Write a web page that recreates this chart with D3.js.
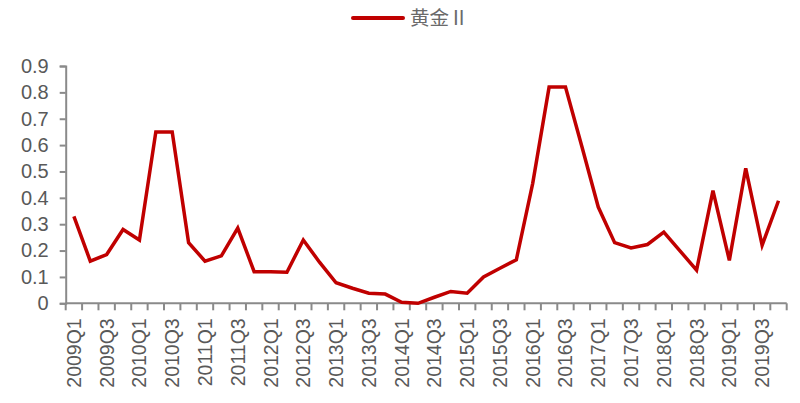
<!DOCTYPE html>
<html><head><meta charset="utf-8">
<script src="https://cdn.jsdelivr.net/npm/d3@7"></script>
<style>
html,body{margin:0;padding:0;background:#fff;}
svg{display:block;}
</style></head>
<body>
<svg id="chart" width="800" height="403"></svg>
<script>
const seriesName = "黄金Ⅱ";
const years = [2009,2010,2011,2012,2013,2014,2015,2016,2017,2018,2019];
const quarters = years.flatMap(y => [1,2,3,4].map(q => y + "Q" + q));
const values = [
  0.33, 0.16, 0.185, 0.28,
  0.24, 0.65, 0.65, 0.23,
  0.16, 0.18, 0.285, 0.12,
  0.12, 0.118, 0.24, 0.155,
  0.078, 0.057, 0.038, 0.035,
  0.004, 0.0, 0.023, 0.045,
  0.038, 0.10, 0.133, 0.165,
  0.455, 0.82, 0.82, 0.595,
  0.365, 0.23, 0.21, 0.223,
  0.27, 0.198, 0.126, 0.427,
  0.163, 0.512, 0.22, 0.389
];
const yTicks = [0,0.1,0.2,0.3,0.4,0.5,0.6,0.7,0.8,0.9];
const xTickLabels = quarters.filter((q,i) => i % 2 === 0);

const svg = d3.select("#chart");
const mLeft = 65.7, mRight = 786.7, mTop = 66, mBottom = 303.3;
const x = d3.scaleBand().domain(quarters).range([mLeft, mRight]).paddingInner(0).paddingOuter(0);
const y = d3.scaleLinear().domain([0, 0.9]).range([mBottom, mTop]);

const axisColor = "#8a8a8a";
const textColor = "#595959";
const font = "'Liberation Sans', Arial, sans-serif";

// Y axis
const yAxis = svg.append("g").attr("transform", `translate(${mLeft},0)`)
  .call(d3.axisLeft(y).tickValues(yTicks).tickFormat(d => d === 0 ? "0" : d3.format(".1f")(d)).tickSize(6).tickPadding(11));
yAxis.select(".domain").attr("stroke", axisColor).attr("stroke-width", 2);
yAxis.selectAll(".tick line").attr("stroke", axisColor).attr("stroke-width", 2);
yAxis.selectAll("text").attr("fill", textColor).style("font-family", font).style("font-size", "20px");

// X axis: ticks at category boundaries
const xg = svg.append("g").attr("transform", `translate(0,${mBottom})`);
xg.append("line").attr("x1", mLeft).attr("x2", mRight).attr("y1", 0).attr("y2", 0)
  .attr("stroke", axisColor).attr("stroke-width", 2);
const boundaries = quarters.map(q => x(q)).concat([x(quarters[quarters.length-1]) + x.bandwidth()]);
xg.selectAll("line.tk").data(boundaries).enter().append("line").attr("class","tk")
  .attr("x1", d => d).attr("x2", d => d).attr("y1", 0).attr("y2", 7)
  .attr("stroke", axisColor).attr("stroke-width", 2);
xg.selectAll("text.lbl").data(xTickLabels).enter().append("text").attr("class","lbl")
  .attr("transform", d => `translate(${x(d) + x.bandwidth()/2 + 7},15) rotate(-90)`)
  .attr("text-anchor", "end")
  .attr("fill", textColor).style("font-family", font).style("font-size", "19.5px")
  .text(d => d);

// Line
const line = d3.line().x((d,i) => x(quarters[i]) + x.bandwidth()/2).y(d => y(d));
svg.append("path").datum(values).attr("d", line)
  .attr("fill", "none").attr("stroke", "#c00000").attr("stroke-width", 3.5)
  .attr("stroke-linejoin", "miter");

// Legend
const lg = svg.append("g");
lg.append("line").attr("x1", 353).attr("x2", 403).attr("y1", 18).attr("y2", 18)
  .attr("stroke", "#c00000").attr("stroke-width", 4).attr("stroke-linecap","round");
lg.append("text").attr("x", 410).attr("y", 25)
  .attr("fill", "#6a6a6a").style("font-family", "'Noto Sans CJK SC', sans-serif").style("font-size", "19.5px")
  .text(seriesName);
</script>
</body></html>
